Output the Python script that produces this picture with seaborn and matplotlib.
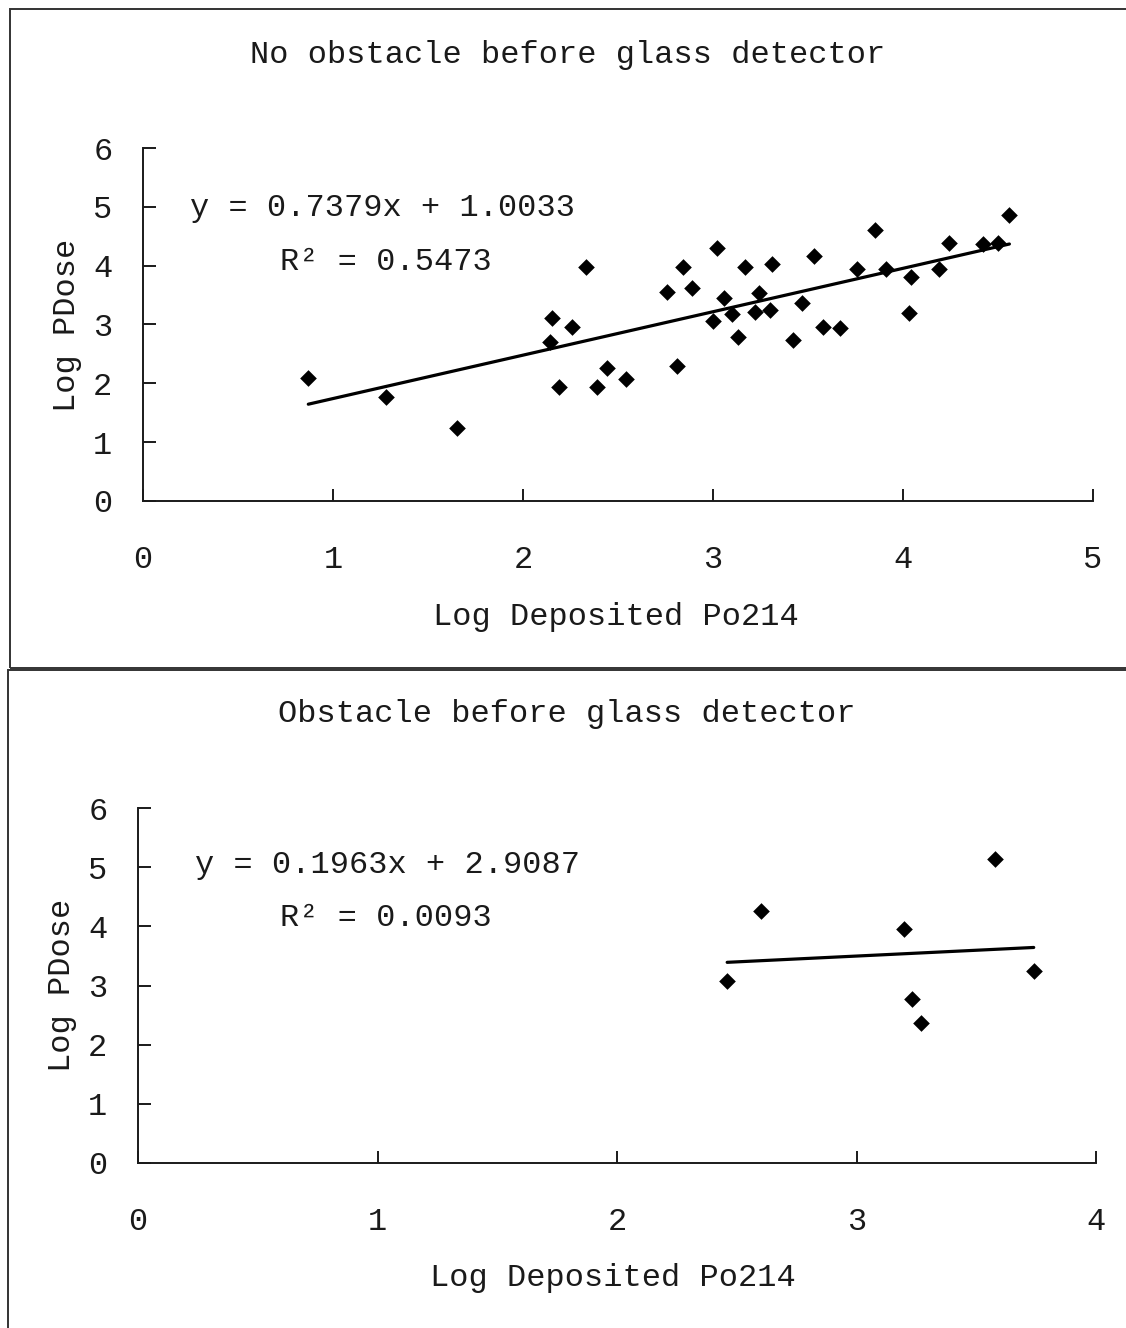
import numpy as np
import pandas as pd
import matplotlib.pyplot as plt
from matplotlib.patches import Rectangle
import seaborn as sns

# Top panel: no obstacle before glass detector
no_obs_x = [0.87, 1.28, 1.65, 2.15, 2.14, 2.19, 2.26, 2.33, 2.39, 2.44,
            2.54, 2.76, 2.81, 2.84, 2.89, 3.00, 3.02, 3.06, 3.10, 3.13,
            3.17, 3.22, 3.24, 3.30, 3.31, 3.42, 3.47, 3.53, 3.58, 3.67,
            3.76, 3.85, 3.91, 4.03, 4.04, 4.19, 4.24, 4.42, 4.50, 4.56]
no_obs_y = [2.09, 1.77, 1.24, 3.11, 2.70, 1.94, 2.96, 3.98, 1.94, 2.26,
            2.07, 3.55, 2.29, 3.98, 3.62, 3.06, 4.30, 3.45, 3.18, 2.79,
            3.98, 3.21, 3.54, 3.25, 4.03, 2.74, 3.37, 4.16, 2.96, 2.94,
            3.94, 4.61, 3.94, 3.20, 3.81, 3.94, 4.39, 4.37, 4.39, 4.86]
no_obs_slope, no_obs_intercept, no_obs_r2 = 0.7379, 1.0033, 0.5473

# Bottom panel: obstacle before glass detector
obs_x = [2.46, 2.60, 3.20, 3.23, 3.27, 3.58, 3.74]
obs_y = [3.08, 4.26, 3.95, 2.77, 2.37, 5.14, 3.24]
obs_slope, obs_intercept, obs_r2 = 0.1963, 2.9087, 0.0093

W, H = 1126, 1328
FS = 23
INK = "#1a1a1a"

sns.set_theme(style="white")
plt.rcParams["font.family"] = ["Liberation Mono", "DejaVu Sans Mono"]
plt.rcParams["text.color"] = INK

fig = plt.figure(figsize=(W / 100, H / 100), dpi=100)


def fx(x):
    return x / W


def fy(y):
    return 1 - y / H


def draw_panel(box, xs, ys, slope, intercept, r2, xmax, texts):
    """box = (left, top, right, bottom) of the axes in pixels"""
    l, t, r, b = box
    ax = fig.add_axes([fx(l), fy(b), fx(r - l), (b - t) / H])
    sns.scatterplot(x=xs, y=ys, marker="D", s=72, color="black",
                    linewidth=0, ax=ax)
    line_x = np.array([min(xs), max(xs)])
    sns.lineplot(x=line_x, y=slope * line_x + intercept, color="black",
                 linewidth=2.3, ax=ax)
    ax.set_xlim(0, xmax)
    ax.set_ylim(0, 6)
    ax.set_xticks(range(0, xmax + 1))
    ax.set_yticks(range(0, 7))
    ax.tick_params(axis="x", direction="in", length=9, width=1.4,
                   pad=32, labelsize=FS, colors=INK, bottom=True)
    ax.tick_params(axis="y", direction="in", length=9, width=1.4,
                   pad=22, labelsize=FS, colors=INK, left=True)
    for side in ["top", "right"]:
        ax.spines[side].set_visible(False)
    for side in ["left", "bottom"]:
        ax.spines[side].set_color(INK)
        ax.spines[side].set_linewidth(1.4)
    ax.patch.set_alpha(0)

    title, title_xy, xlab_xy, ylab_xy, eq_xy, r2_xy = texts
    fig.text(fx(title_xy[0]), fy(title_xy[1]), title, fontsize=FS,
             ha="center", va="center")
    fig.text(fx(xlab_xy[0]), fy(xlab_xy[1]), "Log Deposited Po214",
             fontsize=FS, ha="center", va="center")
    fig.text(fx(ylab_xy[0]), fy(ylab_xy[1]), "Log PDose", fontsize=FS,
             ha="center", va="center", rotation=90)
    fig.text(fx(eq_xy[0]), fy(eq_xy[1]),
             f"y = {slope:.4f}x + {intercept:.4f}", fontsize=FS,
             ha="left", va="center")
    fig.text(fx(r2_xy[0]), fy(r2_xy[1]), f"R² = {r2:.4f}", fontsize=FS,
             ha="left", va="center")
    return ax


draw_panel((143, 148, 1093, 501), no_obs_x, no_obs_y,
           no_obs_slope, no_obs_intercept, no_obs_r2, 5,
           ("No obstacle before glass detector", (568, 55), (616, 617),
            (67, 325), (190, 208), (280, 262)))

draw_panel((138, 808, 1096, 1163), obs_x, obs_y,
           obs_slope, obs_intercept, obs_r2, 4,
           ("Obstacle before glass detector", (567, 714), (613, 1278),
            (62, 985), (195, 865), (280, 918)))

# panel frames
fig.add_artist(Rectangle((fx(10), fy(668)), fx(1300), (668 - 9) / H,
                         transform=fig.transFigure, fill=False,
                         edgecolor="#333333", linewidth=1.4))
fig.add_artist(Rectangle((fx(8), fy(1500)), fx(1300), (1500 - 670) / H,
                         transform=fig.transFigure, fill=False,
                         edgecolor="#333333", linewidth=1.4))

fig.savefig("out.png", dpi=100, facecolor="white")
